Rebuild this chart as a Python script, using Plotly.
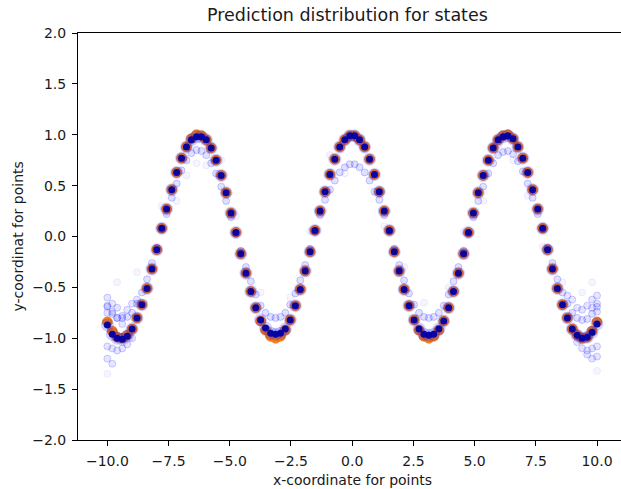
import plotly.graph_objects as go

# ---- data ----
x_points = [-10.00, -9.80, -9.60, -9.39, -9.19, -8.99, -8.79, -8.59, -8.38, -8.18,
            -7.98, -7.78, -7.58, -7.37, -7.17, -6.97, -6.77, -6.57, -6.36, -6.16,
            -5.96, -5.76, -5.56, -5.35, -5.15, -4.95, -4.75, -4.55, -4.34, -4.14,
            -3.94, -3.74, -3.54, -3.33, -3.13, -2.93, -2.73, -2.53, -2.32, -2.12,
            -1.92, -1.72, -1.52, -1.31, -1.11, -0.91, -0.71, -0.51, -0.30, -0.10,
            0.10, 0.30, 0.51, 0.71, 0.91, 1.11, 1.31, 1.52, 1.72, 1.92,
            2.12, 2.32, 2.53, 2.73, 2.93, 3.13, 3.33, 3.54, 3.74, 3.94,
            4.14, 4.34, 4.55, 4.75, 4.95, 5.15, 5.35, 5.56, 5.76, 5.96,
            6.16, 6.36, 6.57, 6.77, 6.97, 7.17, 7.37, 7.58, 7.78, 7.98,
            8.18, 8.38, 8.59, 8.79, 8.99, 9.19, 9.39, 9.60, 9.80, 10.00]

y_true = [-0.84, -0.93, -0.99, -1.00, -0.97, -0.91, -0.80, -0.67, -0.51, -0.32,
          -0.13, 0.08, 0.27, 0.46, 0.63, 0.77, 0.88, 0.96, 1.00, 0.99,
          0.95, 0.87, 0.75, 0.60, 0.43, 0.23, 0.04, -0.17, -0.36, -0.54,
          -0.70, -0.83, -0.92, -0.98, -1.00, -0.98, -0.92, -0.82, -0.68, -0.52,
          -0.34, -0.15, 0.06, 0.25, 0.44, 0.61, 0.76, 0.88, 0.95, 0.99,
          0.99, 0.95, 0.88, 0.76, 0.61, 0.44, 0.25, 0.06, -0.15, -0.34,
          -0.52, -0.68, -0.82, -0.92, -0.98, -1.00, -0.98, -0.92, -0.83, -0.70,
          -0.54, -0.36, -0.17, 0.04, 0.23, 0.43, 0.60, 0.75, 0.87, 0.95,
          0.99, 1.00, 0.96, 0.88, 0.77, 0.63, 0.46, 0.27, 0.08, -0.13,
          -0.32, -0.51, -0.67, -0.80, -0.91, -0.97, -1.00, -0.99, -0.93, -0.84]

pred_mean = [-0.87, -0.96, -1.00, -1.01, -0.98, -0.91, -0.80, -0.67, -0.51, -0.32,
             -0.13, 0.08, 0.27, 0.46, 0.63, 0.77, 0.88, 0.95, 0.98, 0.98,
             0.95, 0.87, 0.75, 0.60, 0.43, 0.23, 0.04, -0.17, -0.36, -0.54,
             -0.70, -0.82, -0.90, -0.95, -0.96, -0.95, -0.91, -0.82, -0.68, -0.52,
             -0.34, -0.15, 0.06, 0.25, 0.44, 0.61, 0.76, 0.88, 0.95, 0.99,
             0.99, 0.95, 0.88, 0.76, 0.61, 0.44, 0.25, 0.06, -0.15, -0.34,
             -0.52, -0.68, -0.82, -0.91, -0.96, -0.97, -0.96, -0.91, -0.83, -0.70,
             -0.54, -0.36, -0.17, 0.04, 0.23, 0.43, 0.60, 0.75, 0.87, 0.95,
             0.98, 0.99, 0.96, 0.88, 0.77, 0.63, 0.46, 0.27, 0.08, -0.13,
             -0.32, -0.51, -0.67, -0.80, -0.91, -0.97, -1.00, -0.99, -0.94, -0.86]

pred_alt = [-0.69, -0.76, -0.80, -0.80, -0.79, -0.75, -0.66, -0.55, -0.42, -0.26,
            -0.11, 0.07, 0.22, 0.38, 0.52, 0.65, 0.75, 0.82, 0.85, 0.84,
            0.80, 0.72, 0.62, 0.49, 0.35, 0.19, 0.03, -0.14, -0.30, -0.44,
            -0.57, -0.68, -0.75, -0.79, -0.80, -0.79, -0.75, -0.67, -0.56, -0.43,
            -0.28, -0.12, 0.05, 0.21, 0.36, 0.46, 0.55, 0.63, 0.68, 0.71,
            0.71, 0.68, 0.63, 0.55, 0.44, 0.36, 0.21, 0.05, -0.12, -0.28,
            -0.43, -0.56, -0.67, -0.75, -0.79, -0.80, -0.79, -0.75, -0.68, -0.57,
            -0.44, -0.30, -0.14, 0.03, 0.19, 0.35, 0.49, 0.62, 0.72, 0.80,
            0.83, 0.84, 0.81, 0.74, 0.64, 0.52, 0.38, 0.22, 0.07, -0.11,
            -0.26, -0.42, -0.55, -0.66, -0.75, -0.80, -0.82, -0.81, -0.76, -0.69]

end_x = [-10.00, -10.00, -10.00, -10.00, -10.00, -9.80, -9.80, -9.80, -9.80,
         -9.60, -9.60, -9.60, -9.39, -9.39, -9.39, -9.19, -9.19, -8.99, -8.99, -8.79,
         10.00, 10.00, 10.00, 10.00, 10.00, 9.80, 9.80, 9.80, 9.80,
         9.60, 9.60, 9.60, 9.39, 9.39, 9.19, 9.19, 8.99, 8.79]
end_y = [-0.60, -0.68, -0.75, -1.08, -1.20, -0.66, -0.74, -1.10, -1.25,
         -0.70, -0.80, -1.12, -0.78, -0.86, -1.10, -0.72, -1.06, -0.66, -1.00, -0.62,
         -0.58, -0.66, -0.74, -1.08, -1.18, -0.62, -0.70, -1.10, -1.20,
         -0.68, -1.12, -1.16, -0.72, -1.10, -0.70, -1.04, -0.62, -0.58]

stray_x = [-10.00, -9.60, -8.79, -7.78, -7.17, -6.77, -6.36, -5.96, -5.35, -4.75,
           -3.74, -2.53, -1.72, -0.91, -0.30, 0.51, 1.31, 2.12, 2.93, 3.94,
           4.55, 5.35, 5.96, 6.57, 7.17, 7.78, 8.59, 9.39, 10.00, 9.80]
stray_y = [-1.35, -0.45, -0.35, 0.30, 0.35, 0.60, 0.72, 0.70, 0.75, 0.20,
           -0.55, -0.60, 0.05, 0.80, 0.62, 0.88, 0.10, -0.30, -0.65, -0.50,
           0.05, 0.35, 0.90, 0.75, 0.40, -0.10, -0.45, -0.55, -1.32, -0.45]

y_ticks = [-2.0, -1.5, -1.0, -0.5, 0.0, 0.5, 1.0, 1.5, 2.0]
x_ticks = [-10.0, -7.5, -5.0, -2.5, 0.0, 2.5, 5.0, 7.5, 10.0]

FONT = "DejaVu Sans"
TXT = "#1a1a1a"

fig = go.Figure()

fig.add_trace(go.Scatter(x=x_points, y=y_true, mode="markers",
                         marker=dict(size=10, color="#ff7f0e",
                                     line=dict(width=0.6, color="#d9650a")),
                         hoverinfo="skip"))
fig.add_trace(go.Scatter(x=stray_x, y=stray_y, mode="markers",
                         marker=dict(size=7, color="rgba(0,0,255,0.04)",
                                     line=dict(width=1, color="rgba(0,0,255,0.06)")),
                         hoverinfo="skip"))
fig.add_trace(go.Scatter(x=end_x, y=end_y, mode="markers",
                         marker=dict(size=7, color="rgba(0,0,255,0.10)",
                                     line=dict(width=1, color="rgba(0,0,255,0.18)")),
                         hoverinfo="skip"))
fig.add_trace(go.Scatter(x=x_points, y=pred_alt, mode="markers",
                         marker=dict(size=7, color="rgba(0,0,255,0.12)",
                                     line=dict(width=1, color="rgba(0,0,255,0.20)")),
                         hoverinfo="skip"))
fig.add_trace(go.Scatter(x=x_points, y=pred_mean, mode="markers",
                         marker=dict(size=13, color="rgba(0,0,255,0.18)",
                                     line=dict(width=0)),
                         hoverinfo="skip"))
fig.add_trace(go.Scatter(x=x_points, y=pred_mean, mode="markers",
                         marker=dict(size=7, color="rgba(0,0,165,0.95)",
                                     line=dict(width=0)),
                         hoverinfo="skip"))

axis_common = dict(showgrid=False, zeroline=False, showline=True, linecolor="black",
                   linewidth=1, ticks="outside", ticklen=5, tickwidth=1,
                   tickcolor="black", ticklabelstandoff=3,
                   tickfont=dict(family=FONT, size=14, color=TXT))

fig.update_layout(
    width=621, height=489,
    margin=dict(l=78, r=0, t=33, b=49),
    paper_bgcolor="white", plot_bgcolor="white",
    showlegend=False,
    font=dict(family=FONT, size=14, color=TXT),
    xaxis=dict(range=[-11.2, 10.98], tickvals=x_ticks, tickformat=".1f",
               mirror=True, **axis_common),
    yaxis=dict(range=[-2.0, 2.0], tickvals=y_ticks, tickformat=".1f",
               **axis_common),
    annotations=[
        dict(text="Prediction distribution for states", xref="paper", yref="paper",
             x=(347 - 78) / 543, y=1 + (33 - 15) / 407,
             showarrow=False, xanchor="center", yanchor="middle",
             font=dict(family=FONT, size=17.5, color=TXT)),
        dict(text="x-coordinate for points", xref="paper", yref="paper",
             x=(352 - 78) / 543, y=-(480 - 440) / 407,
             showarrow=False, xanchor="center", yanchor="middle",
             font=dict(family=FONT, size=14, color=TXT)),
        dict(text="y-coordinat for points", xref="paper", yref="paper",
             x=-(78 - 17) / 543, y=0.5, textangle=-90,
             showarrow=False, xanchor="center", yanchor="middle",
             font=dict(family=FONT, size=14, color=TXT)),
    ],
)

fig.write_html("out.html")
